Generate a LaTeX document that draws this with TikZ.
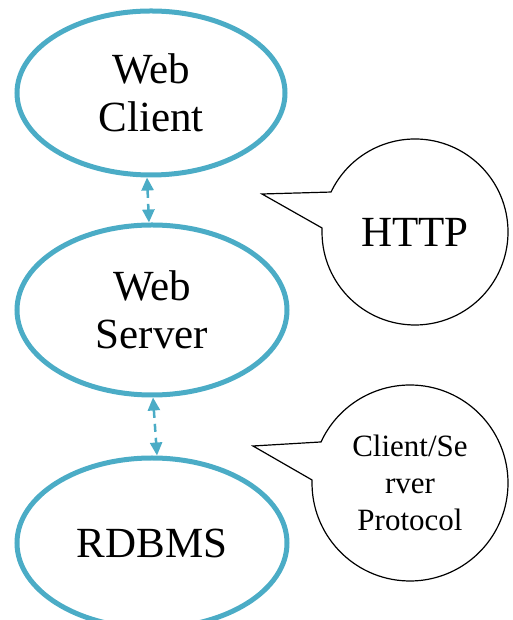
\documentclass[tikz,border=0pt]{standalone}
\usepackage{fontspec}
\setmainfont{Liberation Serif}
\usetikzlibrary{shapes.geometric, shapes.callouts, arrows.meta}
\definecolor{tierblue}{RGB}{75,172,198}

\begin{document}
\begin{tikzpicture}[x=1pt, y=1pt,
            tier/.style={ellipse, draw=tierblue, line width=5pt, minimum width=270pt, minimum height=168pt, align=center, font=\fontsize{43}{48}\selectfont},
            bubble/.style={ellipse callout, draw=black, line width=1.2pt, inner sep=0pt, callout pointer arc=23, align=center},
            link/.style={{Triangle[width=12pt,length=13pt]}-{Triangle[width=12pt,length=13pt]}, tierblue, line width=2.5pt, dash pattern=on 8pt off 6pt}
        ]
            \useasboundingbox (0,0) rectangle (512,620);

            \node[tier, minimum width=268pt, minimum height=164pt] (client) at (151,527) {Web\\Client};
            \node[tier, minimum height=170pt] (server) at (152,310) {Web\\Server};
            \node[tier, minimum height=170pt] (rdbms) at (152,77) {RDBMS};

            \coordinate (httptip) at (262,426);
            \coordinate (prototip) at (253,174);
            \node[bubble, minimum size=186pt, callout absolute pointer={(httptip)}, font=\fontsize{43}{48}\selectfont] (http) at (415,388) {HTTP};
            \node[bubble, minimum size=196pt, callout absolute pointer={(prototip)}, font=\fontsize{31}{37}\selectfont] (proto) at (410,137) {Client/Se\\rver\\Protocol};

            \draw[link] ([xshift=-4pt]client.south) -- ([xshift=-3pt]server.north);
            \draw[link] ([xshift=1pt]server.south) -- ([xshift=5pt]rdbms.north);
        \end{tikzpicture}
\end{document}
